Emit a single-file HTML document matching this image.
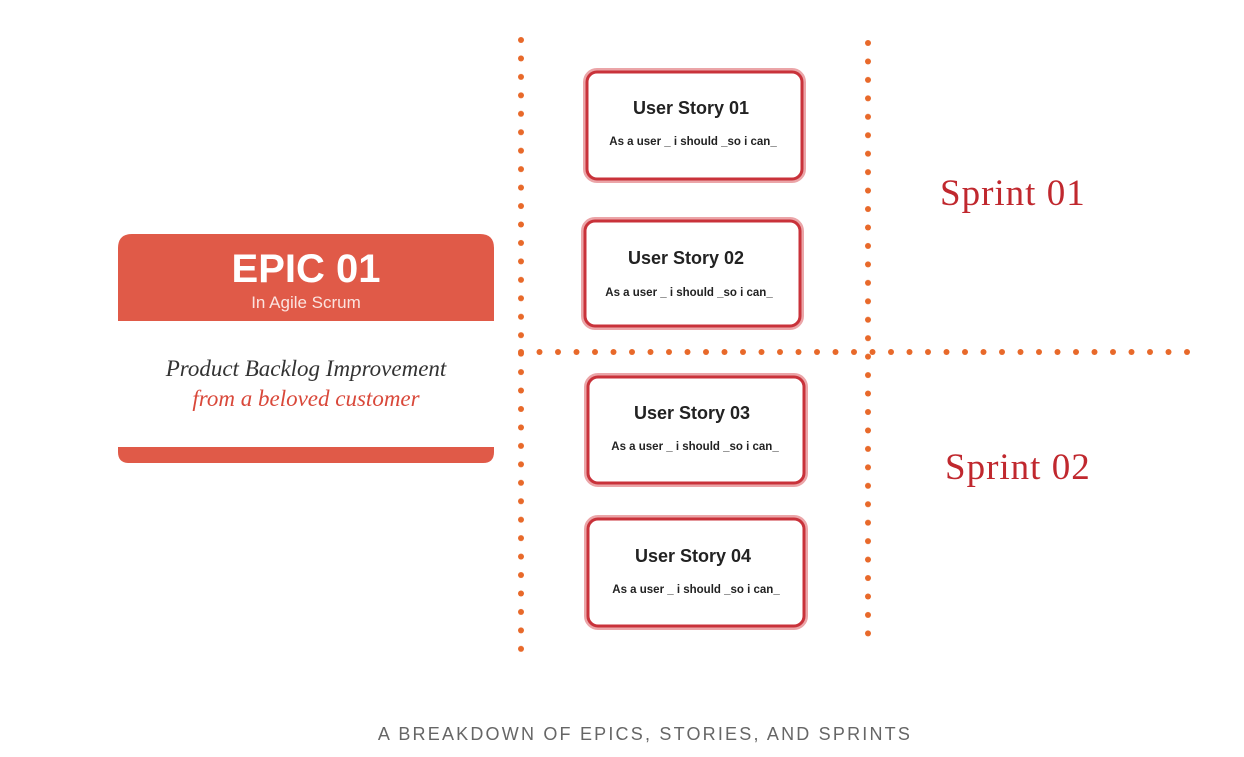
<!DOCTYPE html>
<html><head><meta charset="utf-8"><style>
html,body{margin:0;padding:0;background:#fff;}
body{width:1244px;height:752px;overflow:hidden;}
</style></head><body>
<svg width="1244" height="752" viewBox="0 0 1244 752" xmlns="http://www.w3.org/2000/svg">
<defs>
<pattern id="dv1" x="516" y="37" width="10" height="18.45" patternUnits="userSpaceOnUse"><circle cx="5" cy="3" r="3" fill="#e8692a"/></pattern>
<pattern id="dv2" x="863" y="40" width="10" height="18.45" patternUnits="userSpaceOnUse"><circle cx="5" cy="3" r="3" fill="#e8692a"/></pattern>
<pattern id="dh" x="518" y="347" width="18.5" height="10" patternUnits="userSpaceOnUse"><circle cx="3" cy="5" r="3" fill="#e8692a"/></pattern>
</defs>
<rect x="516" y="37" width="10" height="617" fill="url(#dv1)"/>
<rect x="863" y="40" width="10" height="604" fill="url(#dv2)"/>
<rect x="518" y="347" width="680" height="10" fill="url(#dh)"/>

<!-- Epic -->
<path d="M118 248 Q118 234 132 234 L480 234 Q494 234 494 248 L494 321 L118 321 Z" fill="#e05a48"/>
<path d="M118 447 L494 447 L494 452 Q494 463 483 463 L129 463 Q118 463 118 452 Z" fill="#e05a48"/>
<text x="306" y="282" text-anchor="middle" font-family="Liberation Sans, sans-serif" font-weight="bold" font-size="40" fill="#fff">EPIC 01</text>
<text x="306" y="308" text-anchor="middle" font-family="Liberation Sans, sans-serif" font-size="17" fill="#fbe3df">In Agile Scrum</text>
<text x="306" y="376" text-anchor="middle" font-family="Liberation Serif, serif" font-style="italic" font-size="23" fill="#333">Product Backlog Improvement</text>
<text x="306" y="406" text-anchor="middle" font-family="Liberation Serif, serif" font-style="italic" font-size="23" fill="#d9483a">from a beloved customer</text>

<!-- Stories -->
<g font-family="Liberation Sans, sans-serif" font-weight="bold" fill="#222" text-anchor="middle">
<g>
<rect x="586" y="71" width="217" height="109" rx="11" fill="#fff" stroke="#eba5a8" stroke-width="6"/>
<rect x="587" y="72" width="215" height="107" rx="10" fill="#fff" stroke="#c9323a" stroke-width="3"/>
<text x="691" y="114" font-size="18">User Story 01</text>
<text x="693" y="145" font-size="11.5">As a user _ i should _so i can_</text>
</g>
<g>
<rect x="584" y="220" width="217" height="107" rx="11" fill="#fff" stroke="#eba5a8" stroke-width="6"/>
<rect x="585" y="221" width="215" height="105" rx="10" fill="#fff" stroke="#c9323a" stroke-width="3"/>
<text x="686" y="264" font-size="18">User Story 02</text>
<text x="689" y="296" font-size="11.5">As a user _ i should _so i can_</text>
</g>
<g>
<rect x="587" y="376" width="218" height="108" rx="11" fill="#fff" stroke="#eba5a8" stroke-width="6"/>
<rect x="588" y="377" width="216" height="106" rx="10" fill="#fff" stroke="#c9323a" stroke-width="3"/>
<text x="692" y="419" font-size="18">User Story 03</text>
<text x="695" y="450" font-size="11.5">As a user _ i should _so i can_</text>
</g>
<g>
<rect x="587" y="518" width="218" height="109" rx="11" fill="#fff" stroke="#eba5a8" stroke-width="6"/>
<rect x="588" y="519" width="216" height="107" rx="10" fill="#fff" stroke="#c9323a" stroke-width="3"/>
<text x="693" y="562" font-size="18">User Story 04</text>
<text x="696" y="593" font-size="11.5">As a user _ i should _so i can_</text>
</g>
</g>

<text x="940" y="205" font-family="Liberation Serif, serif" font-size="37" letter-spacing="1" fill="#c0282e">Sprint 01</text>
<text x="945" y="479" font-family="Liberation Serif, serif" font-size="37" letter-spacing="1" fill="#c0282e">Sprint 02</text>

<text x="645" y="740" text-anchor="middle" font-family="Liberation Sans, sans-serif" font-size="18" letter-spacing="2.2" fill="#666">A BREAKDOWN OF EPICS, STORIES, AND SPRINTS</text>
</svg>
</body></html>
